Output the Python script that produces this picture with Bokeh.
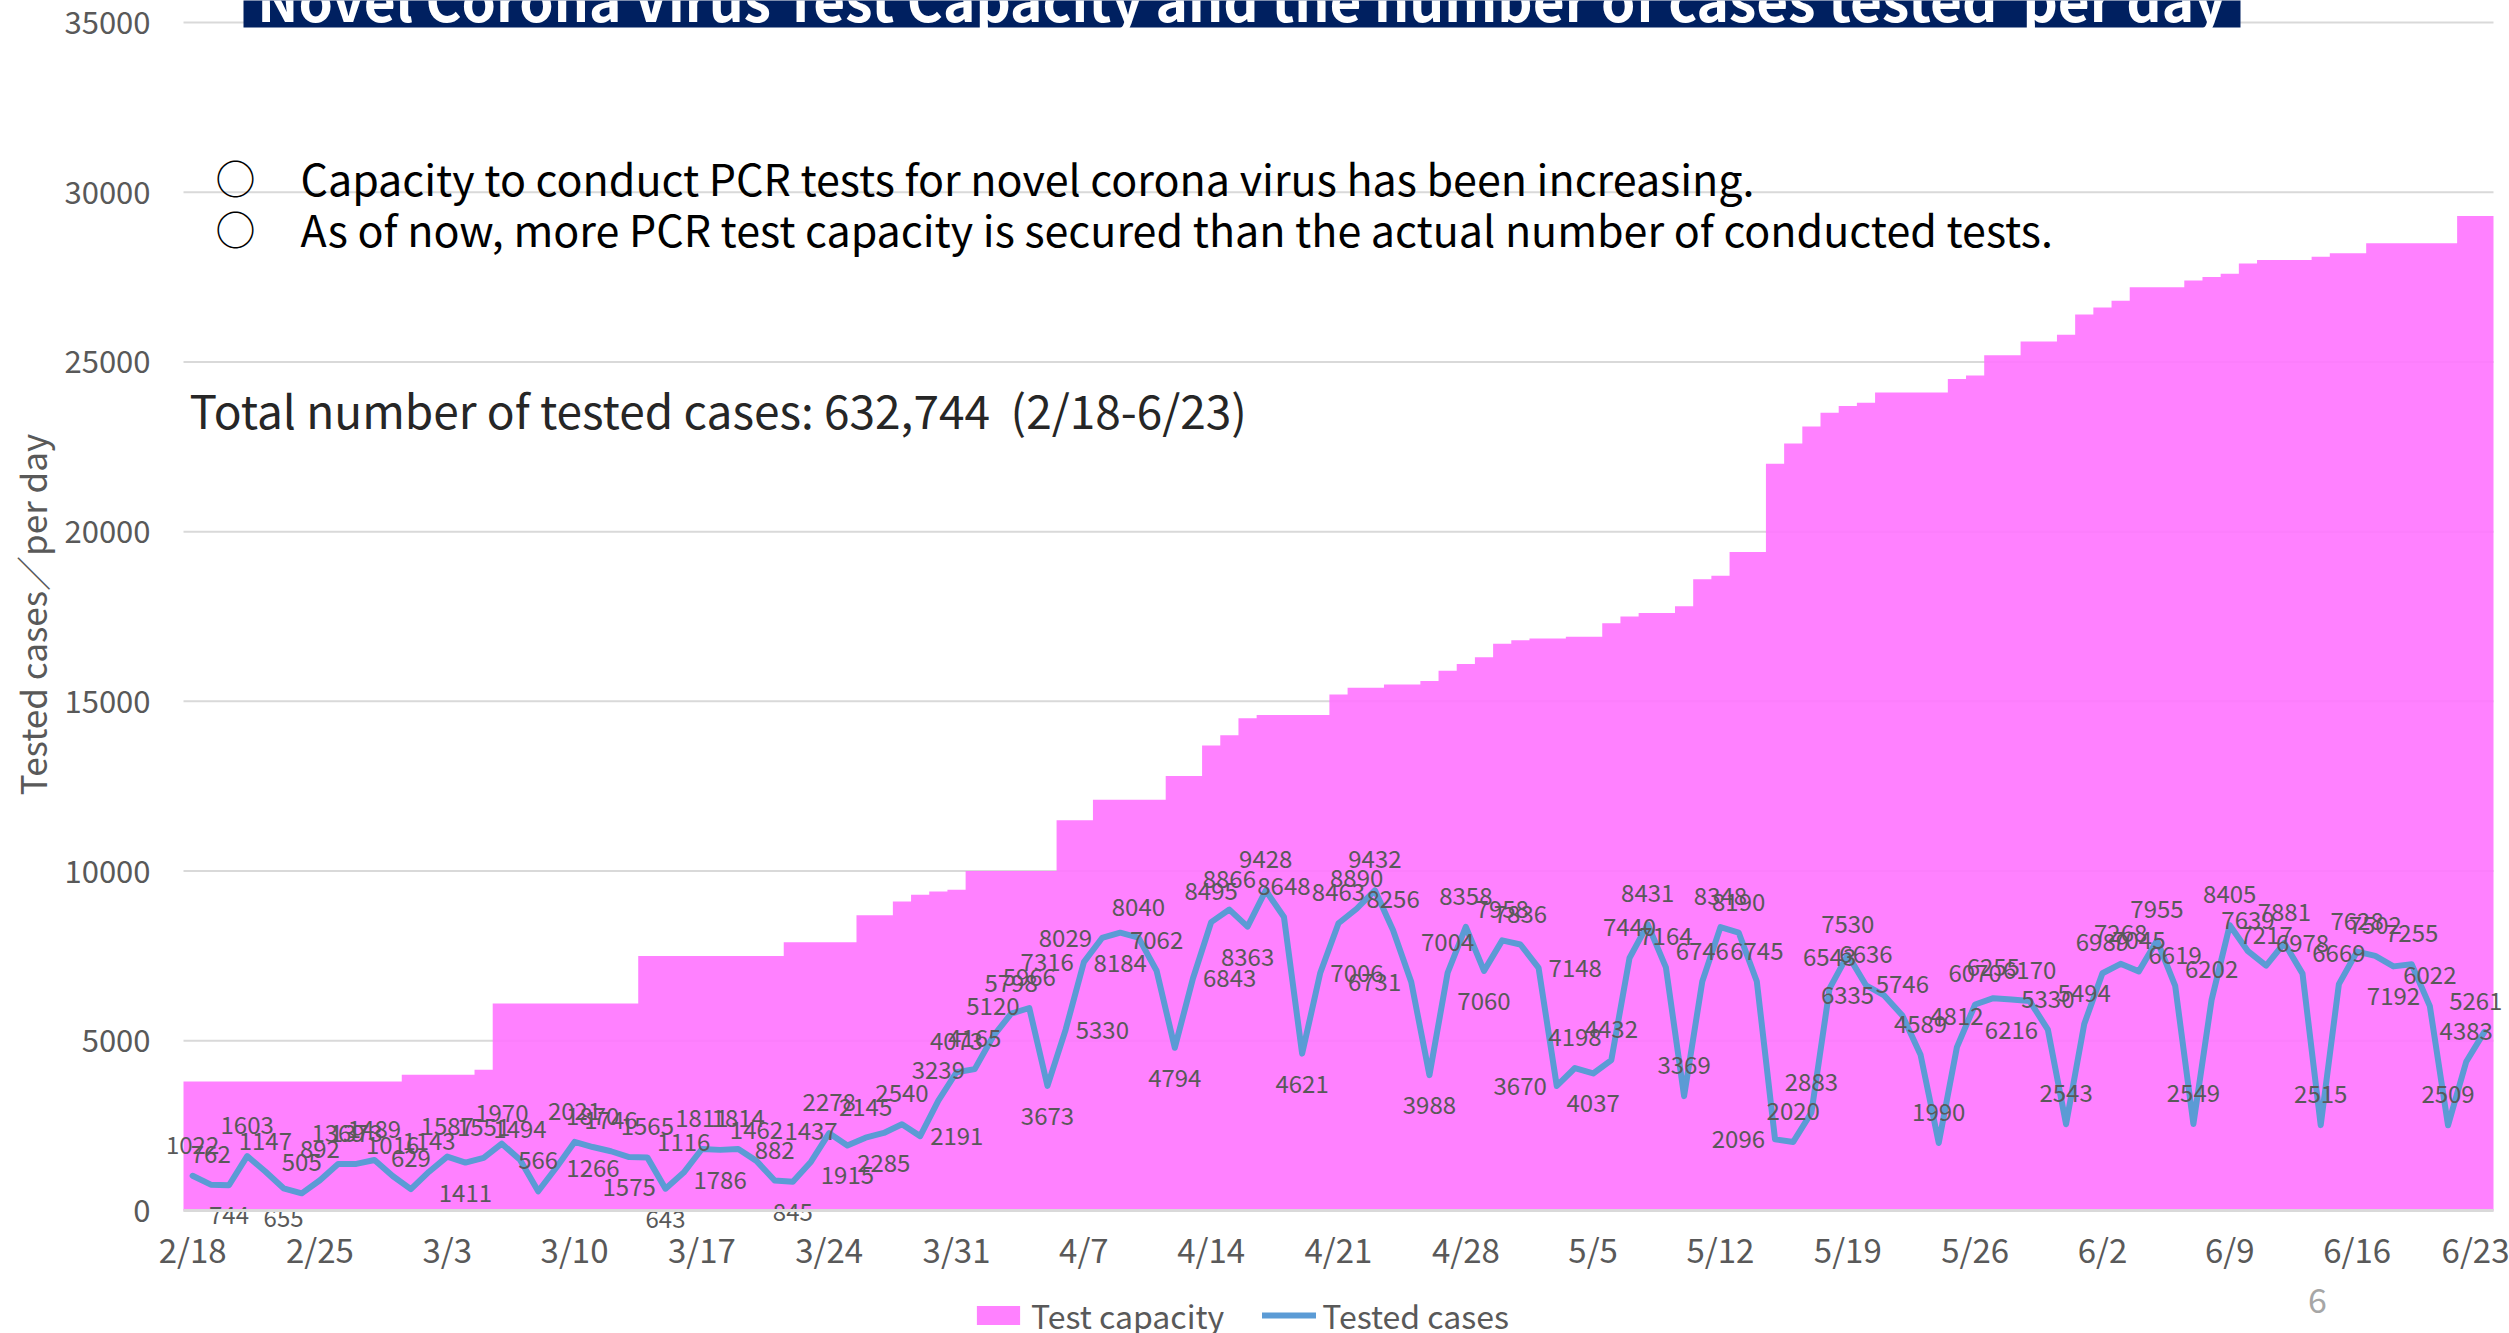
import pandas as pd
from bokeh.plotting import figure
from bokeh.models import (Range1d, FixedTicker, ColumnDataSource, Label,
                          BoxAnnotation, Legend, LegendItem)
from bokeh.core.properties import value
from bokeh.embed import file_html
from bokeh.resources import INLINE

# ---------------- data ----------------
dates = [f"{d.month}/{d.day}" for d in pd.date_range("2020-02-18", "2020-06-23")]

tested = [
    1022, 762, 744, 1603, 1147, 655, 505, 892, 1369, 1373,
    1489, 1016, 629, 1143, 1587, 1411, 1551, 1970, 1494, 566,
    1266, 2021, 1870, 1746, 1575, 1565, 643, 1116, 1811, 1786,
    1814, 1462, 882, 845, 1437, 2278, 1915, 2145, 2285, 2540,
    2191, 3239, 4073, 4165, 5120, 5798, 5966, 3673, 5330, 7316,
    8029, 8184, 8040, 7062, 4794, 6843, 8495, 8866, 8363, 9428,
    8648, 4621, 7006, 8463, 8890, 9432, 8256, 6731, 3988, 7004,
    8358, 7060, 7958, 7836, 7148, 3670, 4198, 4037, 4432, 7440,
    8431, 7164, 3369, 6746, 8348, 8190, 6745, 2096, 2020, 2883,
    6543, 7530, 6636, 6335, 5746, 4589, 1990, 4812, 6070, 6255,
    6216, 6170, 5330, 2543, 5494, 6989, 7268, 7045, 7955, 6619,
    2549, 6202, 8405, 7639, 7217, 7881, 6978, 2515, 6669, 7628,
    7502, 7192, 7255, 6022, 2509, 4383, 5261,
]

capacity = [
    3800, 3800, 3800, 3800, 3800, 3800, 3800, 3800, 3800, 3800, 3800, 3800,
    4000, 4000, 4000, 4000,
    4150,
    6100, 6100, 6100, 6100, 6100, 6100, 6100, 6100,
    7500, 7500, 7500, 7500, 7500, 7500, 7500, 7500,
    7900, 7900, 7900, 7900,
    8700, 8700,
    9100,
    9300,
    9400, 9450,
    10000, 10000, 10000, 10000, 10000,
    11500, 11500,
    12100, 12100, 12100, 12100,
    12800, 12800,
    13700, 14000, 14500,
    14600, 14600, 14600, 14600,
    15200,
    15400, 15400,
    15500, 15500,
    15600, 15900, 16100, 16300, 16700, 16800,
    16850, 16850,
    16900, 16900,
    17300, 17500,
    17600, 17600,
    17800, 18600, 18700,
    19400, 19400,
    22000, 22600, 23100, 23500, 23700, 23800,
    24100, 24100, 24100, 24100,
    24500, 24600,
    25200, 25200,
    25600, 25600,
    25800, 26400, 26600, 26800,
    27200, 27200, 27200,
    27400, 27500, 27600, 27900,
    28000, 28000, 28000,
    28100,
    28200, 28200,
    28500, 28500, 28500, 28500, 28500,
    29300, 29300,
]

tick_labels = ["2/18", "2/25", "3/3", "3/10", "3/17", "3/24", "3/31", "4/7",
               "4/14", "4/21", "4/28", "5/5", "5/12", "5/19", "5/26", "6/2",
               "6/9", "6/16", "6/23"]
y_ticks = [0, 5000, 10000, 15000, 20000, 25000, 30000, 35000]

# data-label placement: a=above, b=below, l=left, r=right, e=above (end, right-aligned)
label_place = ("aabaabaaaa" "aaaaabaaaa" "raaababaab" "aaabaababa"
               "raaaaaabrl" "lbaabraaba" "abraaaalba" "abaarlabaa"
               "aaaaaaalaa" "aaalaaaaaa" "baaaaaaaaa" "aaaaaaaaaa"
               "abaaaae")

FONT = "Noto Sans CJK JP"
GRAY = "#595959"
PINK = "#FF73FF"
BLUE = "#5B9BD5"

x_idx = list(range(len(dates)))

# ---------------- layout geometry (pixels) ----------------
W, H = 2509, 1333
PLOT_LEFT, PLOT_RIGHT = 183, 2493   # where the day columns start / end
FRAME_LEFT = 156                     # frame starts a bit earlier so "2/18" fits
Y0_PX, YTOP_PX = 1210, 22            # pixel rows of 0 and 35000
ppu = (Y0_PX - YTOP_PX) / 35000.0
y_lo = -(H - Y0_PX) / ppu
y_hi = 35000 + YTOP_PX / ppu
day_px = (PLOT_RIGHT - PLOT_LEFT) / len(dates)
x_lo = -0.5 - (PLOT_LEFT - FRAME_LEFT) / day_px
x_hi = len(dates) - 0.5 + (W - PLOT_RIGHT) / day_px

p = figure(width=W, height=H,
           x_range=Range1d(x_lo, x_hi), y_range=Range1d(y_lo, y_hi),
           output_backend="svg", toolbar_location=None,
           min_border_left=FRAME_LEFT, min_border_right=0,
           min_border_top=0, min_border_bottom=0)
p.outline_line_color = None
p.background_fill_color = "white"
p.border_fill_color = "white"

# horizontal gridlines limited to the day columns
first, last = x_idx[0] - 0.5, x_idx[-1] + 0.5
p.segment(x0=[first] * len(y_ticks), x1=[last] * len(y_ticks),
          y0=y_ticks, y1=y_ticks, line_color="#d9d9d9", line_width=2)

# capacity as step area (one column per day)
edges = [i - 0.5 for i in x_idx] + [x_idx[-1] + 0.5]
cap_src = ColumnDataSource(dict(x=edges, y1=[0] * len(edges),
                                y2=capacity + [capacity[-1]]))
cap_r = p.varea_step(x="x", y1="y1", y2="y2", step_mode="after", source=cap_src,
                     fill_color=PINK, fill_alpha=0.9)

line_r = p.line(x_idx, tested, line_color=BLUE, line_width=6,
                line_join="round", line_cap="round")

# data labels
offsets = {
    "a": dict(x_offset=0, y_offset=-31, text_align="center"),
    "b": dict(x_offset=0, y_offset=30, text_align="center"),
    "l": dict(x_offset=-10, y_offset=0, text_align="right"),
    "r": dict(x_offset=10, y_offset=0, text_align="left"),
    "e": dict(x_offset=18, y_offset=-31, text_align="right"),
}
for code, kw in offsets.items():
    sel = [i for i in x_idx if label_place[i] == code]
    src = ColumnDataSource(dict(x=sel, y=[tested[i] for i in sel],
                                t=[str(tested[i]) for i in sel]))
    p.text(x="x", y="y", text="t", source=src, text_font=value(FONT),
           text_font_size="24px", text_color=GRAY,
           text_baseline="middle", **kw)

# axes
p.xgrid.visible = False
p.ygrid.visible = False
p.yaxis.ticker = FixedTicker(ticks=y_ticks)
p.yaxis.axis_line_color = None
p.yaxis.major_tick_line_color = None
p.yaxis.minor_tick_line_color = None
p.yaxis.major_label_text_font = FONT
p.yaxis.major_label_text_font_size = "31px"
p.yaxis.major_label_text_color = GRAY
p.yaxis.major_label_standoff = 0
# leading ideographic spaces shift the centred title upward like the reference
p.yaxis.axis_label = "\u3000\u3000\u3000Tested cases／per day"
p.yaxis.axis_label_text_font = FONT
p.yaxis.axis_label_text_font_size = "35px"
p.yaxis.axis_label_text_font_style = "normal"
p.yaxis.axis_label_text_color = GRAY
p.yaxis.axis_label_standoff = 4

tick_pos = [dates.index(t) for t in tick_labels]
p.xaxis.ticker = FixedTicker(ticks=tick_pos)
p.xaxis.fixed_location = 0
p.xaxis.bounds = (first, last)
p.xaxis.major_label_overrides = {pos: lab for pos, lab in zip(tick_pos, tick_labels)}
p.xaxis.axis_line_color = "#d9d9d9"
p.xaxis.axis_line_width = 3
p.xaxis.major_tick_line_color = None
p.xaxis.minor_tick_line_color = None
p.xaxis.major_label_text_font = FONT
p.xaxis.major_label_text_font_size = "33px"
p.xaxis.major_label_text_color = GRAY
p.xaxis.major_label_standoff = 8


def fy(page_y):
    """page pixel row -> screen units measured up from the frame bottom"""
    return H - page_y


def fx(page_x):
    return page_x - FRAME_LEFT


# title bar (cut off at top like the reference)
p.add_layout(BoxAnnotation(left=fx(243), right=fx(2240), bottom=fy(27), top=fy(-60),
                           left_units="screen", right_units="screen",
                           bottom_units="screen", top_units="screen",
                           fill_color="#002060", fill_alpha=1.0, line_color=None))
p.add_layout(Label(x=fx(1241), y=fy(-3), x_units="screen", y_units="screen",
                   text="Novel Corona Virus Test Capacity and the number of cases tested\u00a0\u00a0per day",
                   text_align="center", text_baseline="middle",
                   text_color="white", text_font=FONT, text_font_style="bold",
                   text_font_size="55px"))

# bullet annotations
bullets = ["Capacity to conduct PCR tests for novel corona virus has been increasing.",
           "As of now, more PCR test capacity is secured than the actual number of conducted tests."]
for txt, yc in zip(bullets, [176, 227]):
    p.add_layout(Label(x=fx(235), y=fy(yc), x_units="screen", y_units="screen", text="○",
                       text_align="center", text_baseline="middle",
                       text_font=FONT, text_font_size="40px", text_color="black"))
    p.add_layout(Label(x=fx(300), y=fy(yc), x_units="screen", y_units="screen", text=txt,
                       text_align="left", text_baseline="middle",
                       text_font=FONT, text_font_size="43px", text_color="black"))

p.add_layout(Label(x=fx(189), y=fy(408), x_units="screen", y_units="screen",
                   text="Total number of tested cases: 632,744\u00a0\u00a0(2/18-6/23)",
                   text_align="left", text_baseline="middle",
                   text_font=FONT, text_font_size="46px", text_color="#262626"))

# page number
p.add_layout(Label(x=fx(2317), y=fy(1300), x_units="screen", y_units="screen", text="6",
                   text_align="center", text_baseline="middle",
                   text_font=FONT, text_font_size="34px", text_color="#A6A6A6"))

legend = Legend(items=[LegendItem(label="Test capacity", renderers=[cap_r]),
                       LegendItem(label="Tested cases", renderers=[line_r])],
                location=(fx(971), fy(1338)), orientation="horizontal",
                label_text_font=FONT, label_text_font_size="32px",
                label_text_color=GRAY, glyph_width=54, glyph_height=24,
                label_standoff=6, spacing=38, padding=0, margin=0,
                border_line_color=None, background_fill_alpha=0)
p.add_layout(legend)

open("out.html", "w").write(file_html(p, INLINE))
